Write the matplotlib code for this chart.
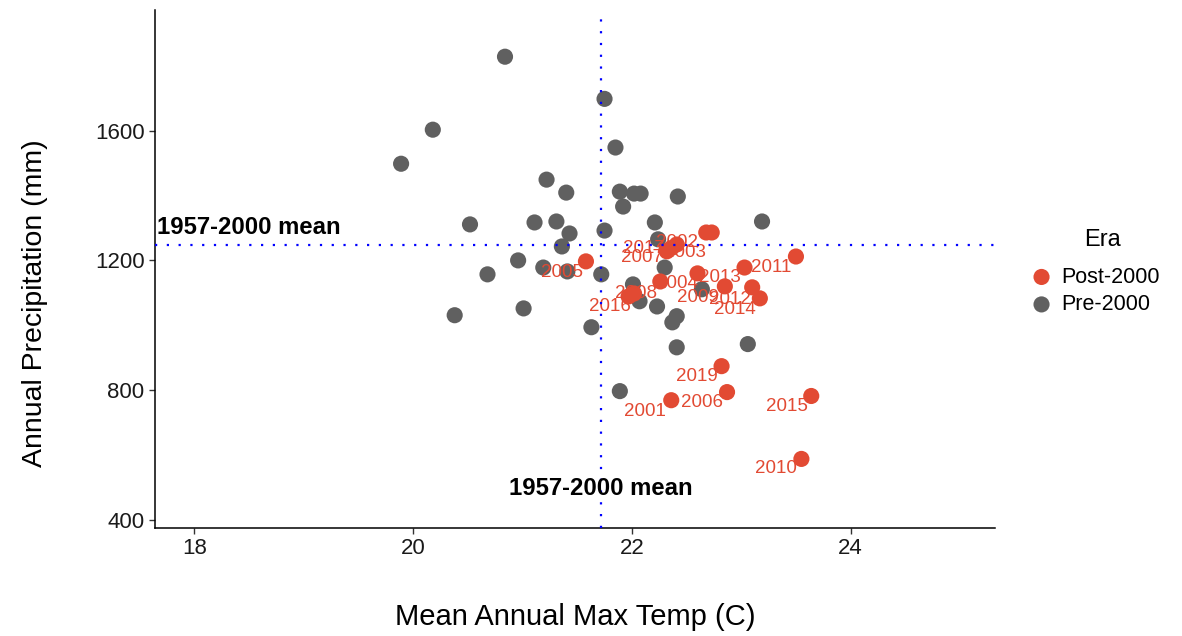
import numpy as np
import matplotlib
matplotlib.use("Agg")
import matplotlib.pyplot as plt

plt.rcParams['font.family'] = ['Liberation Sans', 'DejaVu Sans']

# ---- data ----
pre_temp = [20.84, 21.75, 20.18, 19.89, 21.85, 21.22, 21.40, 21.89, 22.02, 22.08,
            21.92, 22.42, 23.19, 20.52, 21.11, 21.31, 21.43, 21.75, 22.21, 22.24,
            21.36, 20.96, 21.19, 21.41, 20.68, 21.72, 22.30, 22.01, 22.07, 22.23,
            22.64, 22.41, 22.37, 20.38, 21.01, 21.63, 22.41, 23.06, 21.89]
pre_prcp = [1828, 1698, 1603, 1498, 1548, 1449, 1409, 1412, 1406, 1406,
            1366, 1397, 1320, 1311, 1317, 1320, 1283, 1292, 1317, 1265,
            1243, 1200, 1178, 1166, 1157, 1157, 1178, 1126, 1074, 1058,
            1111, 1028, 1009, 1031, 1052, 994, 932, 942, 797]

post_year = [2001, 2002, 2003, 2004, 2005, 2006, 2007, 2008, 2009, 2010,
             2011, 2012, 2013, 2014, 2015, 2016, 2017, 2018, 2019, 2020]
post_temp = [22.36, 22.68, 22.41, 22.26, 21.58, 22.87, 22.32, 22.02, 22.85, 23.55,
             23.03, 23.10, 22.60, 23.17, 23.64, 21.97, 22.36, 22.73, 22.82, 23.50]
post_prcp = [769, 1286, 1249, 1135, 1197, 794, 1228, 1098, 1120, 588,
             1178, 1117, 1160, 1083, 782, 1089, 1238, 1286, 874, 1212]
labeled = {2001, 2002, 2003, 2004, 2005, 2006, 2007, 2008, 2009, 2010,
           2011, 2012, 2013, 2014, 2015, 2016, 2017, 2019}

mean_temp = 21.72
mean_prcp = 1249

# label offsets (pixels), mimicking ggrepel placement
offsets = {2001: (-26, -11), 2002: (-29, -10), 2003: (8, -8), 2004: (17, -2),
           2005: (-24, -11), 2006: (-25, -10), 2007: (-25, -6), 2008: (2, 0),
           2009: (-27, -11), 2010: (-25, -10), 2011: (27, 0), 2012: (-22, -12),
           2013: (22, -4), 2014: (-25, -11), 2015: (-24, -11), 2016: (-19, -10),
           2017: (-27, 0), 2019: (-25, -10)}

red = '#E24A33'
grey = '#606060'

fig = plt.figure(figsize=(11.82, 6.36), dpi=100)
ax = fig.add_axes([155/1182, 1 - 528/636, 840/1182, 518/636])

ax.scatter(pre_temp, pre_prcp, s=135, color=grey, edgecolors='none', label='Pre-2000', zorder=2)
ax.scatter(post_temp, post_prcp, s=135, color=red, edgecolors='none', label='Post-2000', zorder=3)

for yr, t, p in zip(post_year, post_temp, post_prcp):
    if yr in labeled:
        dx, dy = offsets[yr]
        ax.annotate(str(yr), (t, p), xytext=(dx, dy), textcoords='offset pixels',
                    ha='center', va='center', color=red, fontsize=13.5, zorder=4)

ax.axvline(mean_temp, color='blue', lw=1.6, ls=(0, (1, 4.3)), zorder=5)
ax.axhline(mean_prcp, color='blue', lw=1.6, ls=(0, (1, 4.3)), zorder=5)

ax.text(17.66, 1302, '1957-2000 mean', fontsize=17.2, fontweight='bold',
        ha='left', va='center', zorder=6)
ax.text(mean_temp, 496, '1957-2000 mean', fontsize=17.2, fontweight='bold',
        ha='center', va='center', zorder=6)

ax.set_xlim(17.64, 25.32)
ax.set_ylim(375, 1972)
ax.set_xticks([18, 20, 22, 24])
ax.set_yticks([400, 800, 1200, 1600])

for s in ['top', 'right']:
    ax.spines[s].set_visible(False)
for s in ['left', 'bottom']:
    ax.spines[s].set_color('black')
    ax.spines[s].set_linewidth(1.1)
ax.tick_params(length=4, width=1, color='#333333', labelsize=16, labelcolor='#1a1a1a')

ax.set_xlabel('Mean Annual Max Temp (C)', fontsize=21)
ax.set_ylabel('Annual Precipitation (mm)', fontsize=20.5)
ax.xaxis.set_label_coords(0.5, -(617 - 528) / 518)
ax.yaxis.set_label_coords((35 - 155) / 840, (528 - 303) / 518)
ax.xaxis.label.set_va('center')
ax.yaxis.label.set_va('center')

handles, labels = ax.get_legend_handles_labels()
fig.text(1103/1182, 1 - 240/636, 'Era', fontsize=17, ha='center', va='center')
leg = fig.legend(handles[::-1], labels[::-1], loc='upper left',
                 bbox_to_anchor=(1020/1182, 1 - 258/636), frameon=False,
                 fontsize=15.5, handletextpad=0.3, borderaxespad=0,
                 labelspacing=0.3, markerscale=1.0, handlelength=1.2)

fig.savefig('out.png', dpi=100)
